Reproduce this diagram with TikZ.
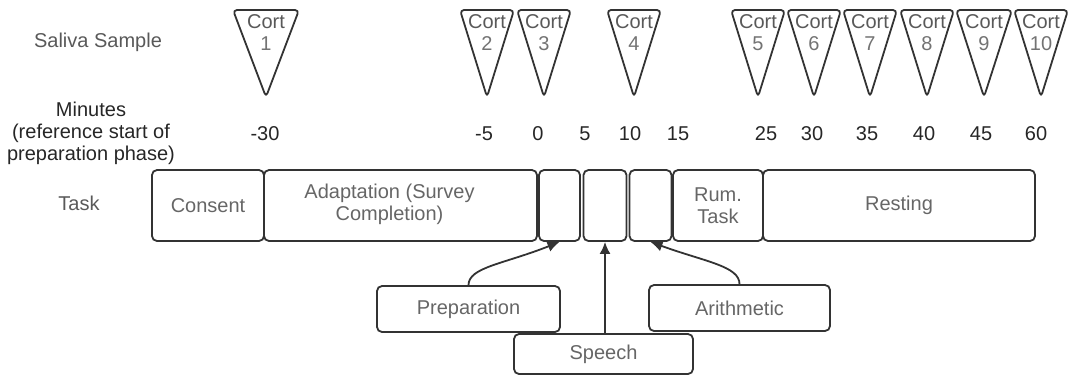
\documentclass[tikz,border=0pt]{standalone}
\usepackage{fontspec}
\setmainfont{Liberation Sans}
\usetikzlibrary{arrows.meta,calc}
\begin{document}
\begin{tikzpicture}[x=1pt,y=-1pt, font=\fontsize{20}{22}\selectfont,
  line/.style={draw=black!80, line width=1.8pt},
  box/.style={line, rounded corners=5pt, inner sep=0pt, text=black!60, align=center},
  lbl/.style={text=black!65, inner sep=0pt, align=center},
  num/.style={text=black!85, inner sep=0pt},
  tri/.style={line, rounded corners=4pt, line join=round},
  arr/.style={line, -{Latex[length=12pt,width=11pt]}}]
\useasboundingbox (0,0) rectangle (1073,376);

% left labels
\node[lbl] (saliva) at (98,42) {Saliva Sample};
\node[lbl, text=black!85] (minutes) at (91,133) {Minutes\\(reference start of\\preparation phase)};
\node[lbl] (task) at (79,203) {Task};

% saliva triangles
\foreach \cx/\hw/\n in {266/33/1, 487/27/2, 544/27/3, 634/27/4, 758/27/5, 814/27/6, 870/27/7, 927/27/8, 984/28/9, 1041/27/10}{
  \draw[tri] (\cx-\hw,10) -- (\cx+\hw,10) -- (\cx,97) -- cycle;
  \node[lbl] (cort\n) at (\cx,22) {Cort};
  \node[lbl, text=black!55] (cn\n) at (\cx,44) {\n};
}

% minutes
\foreach \x/\t [count=\i] in {265/-30, 484/-5, 538/0, 585/5, 630/10, 678/15, 766/25, 812/30, 867/35, 924/40, 981/45, 1036/60}{
  \node[num] (m\i) at (\x,134) {\t};
}

% task row
\node[box, minimum width=112pt, minimum height=71pt] (consent) at (208,205.5) {Consent};
\node[box, minimum width=273pt, minimum height=71pt] (adapt) at (400.5,205.5) {};
\node[lbl, text=black!60] (adapttxt) at ($(adapt)+(-11,-1)$) {Adaptation (Survey\\Completion)};
\node[box, minimum width=41pt, minimum height=71pt] (b1) at (559.5,205.5) {};
\node[box, minimum width=43pt, minimum height=71pt] (b2) at (605,205.5) {};
\node[box, minimum width=42pt, minimum height=71pt] (b3) at (650.5,205.5) {};
\node[box, minimum width=90pt, minimum height=71pt] (rum) at (718,205.5) {Rum.\\Task};
\node[box, minimum width=272pt, minimum height=71pt] (rest) at (899,205.5) {Resting};

% task components
\node[box, minimum width=183pt, minimum height=46pt] (prep) at (468.5,309) {Preparation};
\node[box, minimum width=181pt, minimum height=46pt] (arith) at (739.5,308) {Arithmetic};
\node[box, minimum width=179pt, minimum height=40pt, fill=white] (speech) at (603.5,354) {Speech};

% arrows
\draw[arr] (prep.north) .. controls +(0,-18) and +(-55,22) .. (b1.south);
\draw[arr] (b2.south |- speech.north) -- (b2.south);
\draw[arr] (arith.north) .. controls +(0,-18) and +(55,20) .. (b3.south);
\end{tikzpicture}
\end{document}
